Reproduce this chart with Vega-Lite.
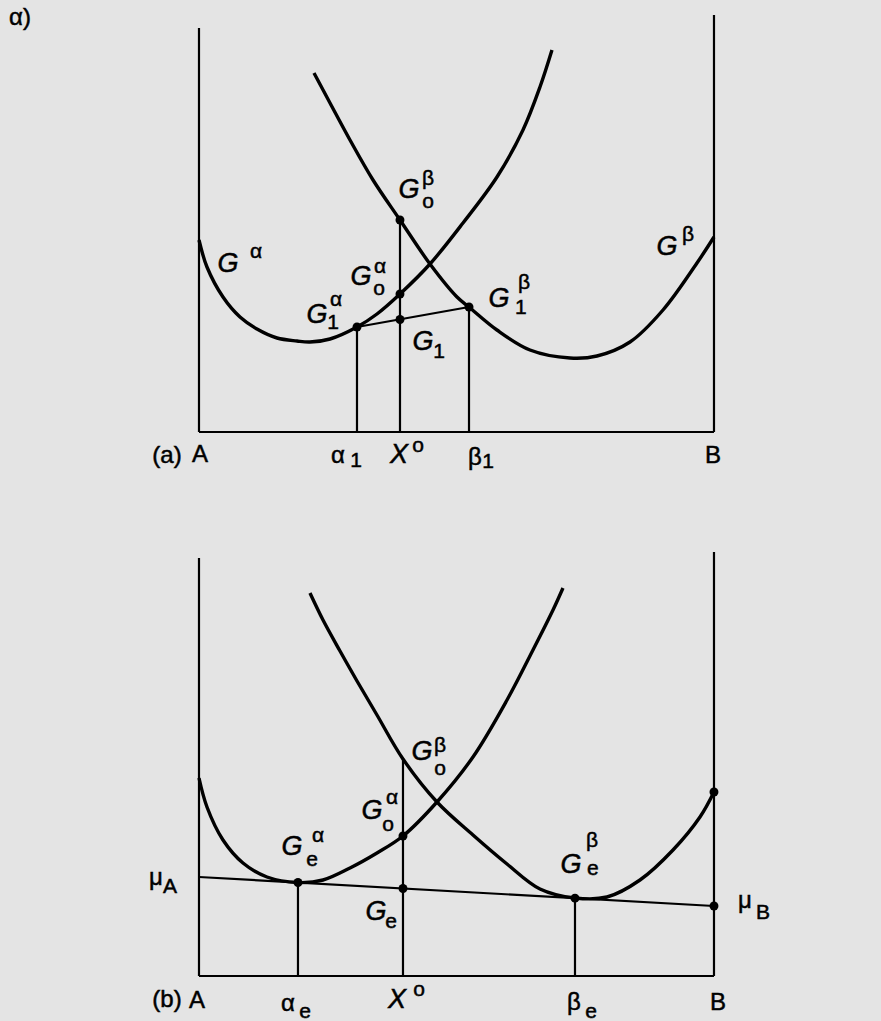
{
  "$schema": "https://vega.github.io/schema/vega-lite/v6.json",
  "background": "#e4e4e4",
  "padding": 0,
  "spacing": 0,
  "config": {"view": {"stroke": null}, "concat": {"spacing": 0}, "text": {"font": "Liberation Sans", "color": "black", "stroke": "black", "strokeWidth": 0.5, "align": "center", "baseline": "middle"}},
  "datasets": {
    "curvesA": [
      {"curve": "alpha", "x": 0.0, "g": 1.92}, {"curve": "alpha", "x": 0.0155, "g": 1.65}, {"curve": "alpha", "x": 0.0466, "g": 1.35},
      {"curve": "alpha", "x": 0.0796, "g": 1.15}, {"curve": "alpha", "x": 0.1126, "g": 1.03}, {"curve": "alpha", "x": 0.1515, "g": 0.94},
      {"curve": "alpha", "x": 0.1903, "g": 0.91}, {"curve": "alpha", "x": 0.2155, "g": 0.9}, {"curve": "alpha", "x": 0.2544, "g": 0.93},
      {"curve": "alpha", "x": 0.3068, "g": 1.05}, {"curve": "alpha", "x": 0.3456, "g": 1.18}, {"curve": "alpha", "x": 0.3903, "g": 1.38},
      {"curve": "alpha", "x": 0.4485, "g": 1.68}, {"curve": "alpha", "x": 0.5126, "g": 2.09}, {"curve": "alpha", "x": 0.5786, "g": 2.55},
      {"curve": "alpha", "x": 0.6291, "g": 3.02}, {"curve": "alpha", "x": 0.6621, "g": 3.45}, {"curve": "alpha", "x": 0.6854, "g": 3.82},
      {"curve": "beta", "x": 0.2233, "g": 3.59}, {"curve": "beta", "x": 0.2544, "g": 3.29}, {"curve": "beta", "x": 0.2932, "g": 2.92},
      {"curve": "beta", "x": 0.3379, "g": 2.52}, {"curve": "beta", "x": 0.3903, "g": 2.12}, {"curve": "beta", "x": 0.4485, "g": 1.68},
      {"curve": "beta", "x": 0.501, "g": 1.35}, {"curve": "beta", "x": 0.5243, "g": 1.25}, {"curve": "beta", "x": 0.5786, "g": 1.02},
      {"curve": "beta", "x": 0.6427, "g": 0.82}, {"curve": "beta", "x": 0.7204, "g": 0.74}, {"curve": "beta", "x": 0.7728, "g": 0.76},
      {"curve": "beta", "x": 0.8369, "g": 0.9}, {"curve": "beta", "x": 0.901, "g": 1.22}, {"curve": "beta", "x": 0.967, "g": 1.69},
      {"curve": "beta", "x": 1.0, "g": 1.95}
    ],
    "segsA": [
      {"x": 0, "g": 0, "x2": 0, "g2": 4.04},
      {"x": 1, "g": 0, "x2": 1, "g2": 4.17},
      {"x": 0, "g": 0, "x2": 1, "g2": 0},
      {"x": 0.3068, "g": 0, "x2": 0.3068, "g2": 1.05},
      {"x": 0.3903, "g": 0, "x2": 0.3903, "g2": 2.12},
      {"x": 0.5243, "g": 0, "x2": 0.5243, "g2": 1.25},
      {"x": 0.3068, "g": 1.05, "x2": 0.5243, "g2": 1.25}
    ],
    "dotsA": [
      {"x": 0.3903, "g": 2.12}, {"x": 0.3903, "g": 1.38}, {"x": 0.3903, "g": 1.125},
      {"x": 0.3068, "g": 1.05}, {"x": 0.5243, "g": 1.25}
    ],
    "labelsA": [
      {"text": "α)", "x": -0.3476, "g": 4.14, "role": "name"},
      {"text": "(a)", "x": -0.0621, "g": -0.24, "role": "name"},
      {"text": "A", "x": 0.0019, "g": -0.23, "role": "name"},
      {"text": "α", "x": 0.2699, "g": -0.24, "role": "name"},
      {"text": "1", "x": 0.3049, "g": -0.29, "role": "index"},
      {"text": "X", "x": 0.3883, "g": -0.23, "role": "var"},
      {"text": "o", "x": 0.4252, "g": -0.14, "role": "index"},
      {"text": "β", "x": 0.5359, "g": -0.26, "role": "name"},
      {"text": "1", "x": 0.5612, "g": -0.3, "role": "index"},
      {"text": "B", "x": 0.9981, "g": -0.24, "role": "name"},
      {"text": "G", "x": 0.0563, "g": 1.68, "role": "var"},
      {"text": "α", "x": 0.1107, "g": 1.8, "role": "index"},
      {"text": "G", "x": 0.4078, "g": 2.42, "role": "var"},
      {"text": "β", "x": 0.4447, "g": 2.53, "role": "index"},
      {"text": "o", "x": 0.4447, "g": 2.3, "role": "index"},
      {"text": "G", "x": 0.3146, "g": 1.55, "role": "var"},
      {"text": "α", "x": 0.3515, "g": 1.65, "role": "index"},
      {"text": "o", "x": 0.3495, "g": 1.43, "role": "index"},
      {"text": "G", "x": 0.2291, "g": 1.17, "role": "var"},
      {"text": "α", "x": 0.266, "g": 1.32, "role": "index"},
      {"text": "1", "x": 0.2602, "g": 1.09, "role": "index"},
      {"text": "G", "x": 0.435, "g": 0.9, "role": "var"},
      {"text": "1", "x": 0.466, "g": 0.8, "role": "index"},
      {"text": "G", "x": 0.5825, "g": 1.33, "role": "var"},
      {"text": "β", "x": 0.6311, "g": 1.49, "role": "index"},
      {"text": "1", "x": 0.6252, "g": 1.24, "role": "index"},
      {"text": "G", "x": 0.9087, "g": 1.85, "role": "var"},
      {"text": "β", "x": 0.9495, "g": 1.97, "role": "index"}
    ],
    "curvesB": [
      {"curve": "alpha", "x": 0.0, "g": 1.98}, {"curve": "alpha", "x": 0.0155, "g": 1.69}, {"curve": "alpha", "x": 0.0466, "g": 1.36},
      {"curve": "alpha", "x": 0.0854, "g": 1.13}, {"curve": "alpha", "x": 0.132, "g": 0.99}, {"curve": "alpha", "x": 0.1922, "g": 0.935},
      {"curve": "alpha", "x": 0.2408, "g": 0.96}, {"curve": "alpha", "x": 0.2932, "g": 1.08}, {"curve": "alpha", "x": 0.3456, "g": 1.23},
      {"curve": "alpha", "x": 0.3961, "g": 1.4}, {"curve": "alpha", "x": 0.4621, "g": 1.74}, {"curve": "alpha", "x": 0.532, "g": 2.19},
      {"curve": "alpha", "x": 0.5981, "g": 2.76}, {"curve": "alpha", "x": 0.6485, "g": 3.26}, {"curve": "alpha", "x": 0.6874, "g": 3.66},
      {"curve": "alpha", "x": 0.7068, "g": 3.88},
      {"curve": "beta", "x": 0.2155, "g": 3.83}, {"curve": "beta", "x": 0.2408, "g": 3.56}, {"curve": "beta", "x": 0.2738, "g": 3.25},
      {"curve": "beta", "x": 0.3068, "g": 2.95}, {"curve": "beta", "x": 0.3456, "g": 2.61}, {"curve": "beta", "x": 0.3961, "g": 2.17},
      {"curve": "beta", "x": 0.4621, "g": 1.74}, {"curve": "beta", "x": 0.532, "g": 1.41}, {"curve": "beta", "x": 0.5981, "g": 1.12},
      {"curve": "beta", "x": 0.6621, "g": 0.87}, {"curve": "beta", "x": 0.7301, "g": 0.78}, {"curve": "beta", "x": 0.7922, "g": 0.79},
      {"curve": "beta", "x": 0.8563, "g": 0.96}, {"curve": "beta", "x": 0.9204, "g": 1.26}, {"curve": "beta", "x": 0.9728, "g": 1.59},
      {"curve": "beta", "x": 1.0, "g": 1.84}
    ],
    "segsB": [
      {"x": 0, "g": 0, "x2": 0, "g2": 4.18},
      {"x": 1, "g": 0, "x2": 1, "g2": 4.24},
      {"x": 0, "g": 0, "x2": 1, "g2": 0},
      {"x": 0.1922, "g": 0, "x2": 0.1922, "g2": 0.935},
      {"x": 0.3961, "g": 0, "x2": 0.3961, "g2": 2.17},
      {"x": 0.7301, "g": 0, "x2": 0.7301, "g2": 0.78},
      {"x": 0, "g": 0.99, "x2": 1, "g2": 0.7}
    ],
    "dotsB": [
      {"x": 0.1922, "g": 0.935}, {"x": 0.3961, "g": 1.4}, {"x": 0.3961, "g": 0.875},
      {"x": 0.7301, "g": 0.778}, {"x": 1, "g": 0.7}, {"x": 1, "g": 1.84}
    ],
    "labelsB": [
      {"text": "(b)", "x": -0.0621, "g": -0.24, "role": "name"},
      {"text": "A", "x": -0.0039, "g": -0.25, "role": "name"},
      {"text": "α", "x": 0.1728, "g": -0.28, "role": "name"},
      {"text": "e", "x": 0.2058, "g": -0.36, "role": "index"},
      {"text": "X", "x": 0.3845, "g": -0.24, "role": "var"},
      {"text": "o", "x": 0.4272, "g": -0.14, "role": "index"},
      {"text": "β", "x": 0.7282, "g": -0.27, "role": "name"},
      {"text": "e", "x": 0.7612, "g": -0.36, "role": "index"},
      {"text": "B", "x": 1.0078, "g": -0.27, "role": "name"},
      {"text": "μ", "x": -0.0835, "g": 0.98, "role": "name"},
      {"text": "A", "x": -0.0563, "g": 0.89, "role": "index"},
      {"text": "μ", "x": 1.0602, "g": 0.75, "role": "name"},
      {"text": "B", "x": 1.0951, "g": 0.63, "role": "index"},
      {"text": "G", "x": 0.1806, "g": 1.29, "role": "var"},
      {"text": "α", "x": 0.2311, "g": 1.4, "role": "index"},
      {"text": "e", "x": 0.2194, "g": 1.16, "role": "index"},
      {"text": "G", "x": 0.3359, "g": 1.65, "role": "var"},
      {"text": "α", "x": 0.3748, "g": 1.78, "role": "index"},
      {"text": "o", "x": 0.367, "g": 1.51, "role": "index"},
      {"text": "G", "x": 0.3437, "g": 0.64, "role": "var"},
      {"text": "e", "x": 0.3728, "g": 0.54, "role": "index"},
      {"text": "G", "x": 0.433, "g": 2.24, "role": "var"},
      {"text": "β", "x": 0.468, "g": 2.3, "role": "index"},
      {"text": "o", "x": 0.468, "g": 2.07, "role": "index"},
      {"text": "G", "x": 0.7223, "g": 1.11, "role": "var"},
      {"text": "β", "x": 0.7631, "g": 1.35, "role": "index"},
      {"text": "e", "x": 0.765, "g": 1.07, "role": "index"}
    ]
  },
  "vconcat": [
    {
      "width": 881,
      "height": 510,
      "encoding": {
        "x": {"field": "x", "type": "quantitative", "scale": {"domain": [-0.3864, 1.3243], "nice": false, "zero": false}, "axis": null},
        "y": {"field": "g", "type": "quantitative", "scale": {"domain": [-0.78, 4.32], "nice": false, "zero": false}, "axis": null}
      },
      "layer": [
        {"data": {"name": "segsA"}, "mark": {"type": "rule", "color": "black", "strokeWidth": 2.2}, "encoding": {"x2": {"field": "x2"}, "y2": {"field": "g2"}}},
        {"data": {"name": "curvesA"}, "mark": {"type": "line", "color": "black", "strokeWidth": 3.4, "interpolate": "catmull-rom"}, "encoding": {"detail": {"field": "curve"}}},
        {"data": {"name": "dotsA"}, "mark": {"type": "circle", "color": "black", "size": 80, "opacity": 1}},
        {"data": {"name": "labelsA"}, "transform": [{"filter": "datum.role == 'var'"}], "mark": {"type": "text", "fontSize": 27, "fontStyle": "italic"}, "encoding": {"text": {"field": "text"}}},
        {"data": {"name": "labelsA"}, "transform": [{"filter": "datum.role == 'name'"}], "mark": {"type": "text", "fontSize": 24}, "encoding": {"text": {"field": "text"}}},
        {"data": {"name": "labelsA"}, "transform": [{"filter": "datum.role == 'index'"}], "mark": {"type": "text", "fontSize": 21}, "encoding": {"text": {"field": "text"}}}
      ]
    },
    {
      "width": 881,
      "height": 511,
      "encoding": {
        "x": {"field": "x", "type": "quantitative", "scale": {"domain": [-0.3864, 1.3243], "nice": false, "zero": false}, "axis": null},
        "y": {"field": "g", "type": "quantitative", "scale": {"domain": [-0.45, 4.66], "nice": false, "zero": false}, "axis": null}
      },
      "layer": [
        {"data": {"name": "segsB"}, "mark": {"type": "rule", "color": "black", "strokeWidth": 2.2}, "encoding": {"x2": {"field": "x2"}, "y2": {"field": "g2"}}},
        {"data": {"name": "curvesB"}, "mark": {"type": "line", "color": "black", "strokeWidth": 3.4, "interpolate": "catmull-rom"}, "encoding": {"detail": {"field": "curve"}}},
        {"data": {"name": "dotsB"}, "mark": {"type": "circle", "color": "black", "size": 80, "opacity": 1}},
        {"data": {"name": "labelsB"}, "transform": [{"filter": "datum.role == 'var'"}], "mark": {"type": "text", "fontSize": 27, "fontStyle": "italic"}, "encoding": {"text": {"field": "text"}}},
        {"data": {"name": "labelsB"}, "transform": [{"filter": "datum.role == 'name'"}], "mark": {"type": "text", "fontSize": 24}, "encoding": {"text": {"field": "text"}}},
        {"data": {"name": "labelsB"}, "transform": [{"filter": "datum.role == 'index'"}], "mark": {"type": "text", "fontSize": 21}, "encoding": {"text": {"field": "text"}}}
      ]
    }
  ]
}
